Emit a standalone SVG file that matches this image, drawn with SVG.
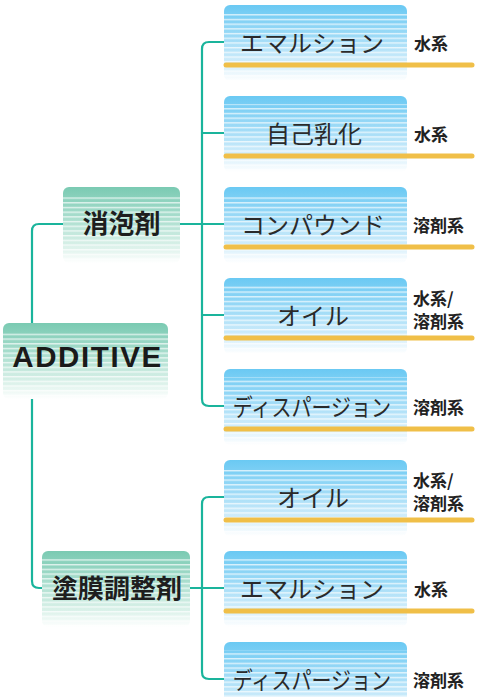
<svg xmlns="http://www.w3.org/2000/svg" width="478" height="697" viewBox="0 0 478 697">
<style>
.conn{fill:none;stroke:#1ab49c;stroke-width:2.2;stroke-linecap:round}
.ybar{stroke:#f0bf48;stroke-width:5;stroke-linecap:round}
.bt{font-family:"Noto Sans CJK JP","Noto Sans",sans-serif;font-size:24px;fill:#2a2a2a;text-anchor:middle}
.lb{font-family:"Noto Sans CJK JP","Noto Sans",sans-serif;font-size:17px;font-weight:bold;fill:#222}
.gt{font-family:"Noto Sans CJK JP","Noto Sans",sans-serif;font-size:26px;font-weight:bold;fill:#1e1e1e;text-anchor:middle}
</style>
<defs>
<linearGradient id="gb" x1="0" y1="0" x2="0" y2="1">
<stop offset="0" stop-color="#6ac9f3"/>
<stop offset="0.45" stop-color="#a2dcf7"/>
<stop offset="0.78" stop-color="#d4eefb"/>
<stop offset="1" stop-color="#ffffff"/>
</linearGradient>
<linearGradient id="gg" x1="0" y1="0" x2="0" y2="1">
<stop offset="0" stop-color="#7acab2"/>
<stop offset="0.45" stop-color="#afe0d1"/>
<stop offset="0.78" stop-color="#daf1e9"/>
<stop offset="1" stop-color="#ffffff"/>
</linearGradient>
<pattern id="st" width="10" height="4.7" patternUnits="userSpaceOnUse">
<rect x="0" y="0" width="10" height="1.4" fill="#ffffff" fill-opacity="0.7"/>
</pattern>
</defs>

<g id="connectors">
<path class="conn" d="M63,224 H39 Q32,224 32,231 V323"/>
<path class="conn" d="M32,399 V581 Q32,588 39,588 H42"/>
<path class="conn" d="M224,42 H209 Q202,42 202,49 V399 Q202,406 209,406 H224"/>
<path class="conn" d="M180,224 H224"/>
<path class="conn" d="M202,133 H224"/>
<path class="conn" d="M202,315 H224"/>
<path class="conn" d="M224,497 H209 Q202,497 202,504 V672 Q202,679 209,679 H224"/>
<path class="conn" d="M190,588 H224"/>
</g>

<g id="additive">
<rect x="3" y="323" width="165" height="76" rx="6" fill="url(#gg)"/>
<rect x="3" y="331" width="165" height="68" fill="url(#st)"/>
<text x="87.5" y="367" font-family="'Liberation Sans',Arial,sans-serif" font-size="29.5" font-weight="bold" letter-spacing="1.6" fill="#1a1a1a" text-anchor="middle">ADDITIVE</text>
</g>

<g id="shouhouzai">
<rect x="63" y="187" width="117" height="76" rx="6" fill="url(#gg)"/>
<rect x="63" y="195" width="117" height="68" fill="url(#st)"/>
<text class="gt" x="121.5" y="233">消泡剤</text>
</g>

<g id="tomakuchouseizai">
<rect x="42" y="551" width="148" height="76" rx="6" fill="url(#gg)"/>
<rect x="42" y="559" width="148" height="68" fill="url(#st)"/>
<text class="gt" x="117" y="598" font-size="27">塗膜調整剤</text>
</g>

<g id="b1">
<rect x="224" y="5" width="183" height="76" rx="6" fill="url(#gb)"/>
<rect x="224" y="13" width="183" height="68" fill="url(#st)"/>
<line class="ybar" x1="226" y1="65" x2="472" y2="65"/>
<text class="bt" x="312" y="52">エマルション</text>
<text class="lb" x="414" y="50">水系</text>
</g>

<g id="b2">
<rect x="224" y="96" width="183" height="76" rx="6" fill="url(#gb)"/>
<rect x="224" y="104" width="183" height="68" fill="url(#st)"/>
<line class="ybar" x1="226" y1="156" x2="472" y2="156"/>
<text class="bt" x="314" y="143">自己乳化</text>
<text class="lb" x="414" y="141">水系</text>
</g>

<g id="b3">
<rect x="224" y="187" width="183" height="76" rx="6" fill="url(#gb)"/>
<rect x="224" y="195" width="183" height="68" fill="url(#st)"/>
<line class="ybar" x1="226" y1="247" x2="472" y2="247"/>
<text class="bt" x="313" y="234">コンパウンド</text>
<text class="lb" x="413" y="232">溶剤系</text>
</g>

<g id="b4">
<rect x="224" y="278" width="183" height="76" rx="6" fill="url(#gb)"/>
<rect x="224" y="286" width="183" height="68" fill="url(#st)"/>
<line class="ybar" x1="226" y1="338" x2="472" y2="338"/>
<text class="bt" x="313" y="325">オイル</text>
<text class="lb" x="413" y="305">水系/</text>
<text class="lb" x="413" y="328">溶剤系</text>
</g>

<g id="b5">
<rect x="224" y="369" width="183" height="76" rx="6" fill="url(#gb)"/>
<rect x="224" y="377" width="183" height="68" fill="url(#st)"/>
<line class="ybar" x1="226" y1="429" x2="472" y2="429"/>
<text class="bt" transform="scale(0.835,1)" x="373.6" y="416">ディスパージョン</text>
<text class="lb" x="413" y="414">溶剤系</text>
</g>

<g id="b6">
<rect x="224" y="460" width="183" height="76" rx="6" fill="url(#gb)"/>
<rect x="224" y="468" width="183" height="68" fill="url(#st)"/>
<line class="ybar" x1="226" y1="520" x2="472" y2="520"/>
<text class="bt" x="313" y="507">オイル</text>
<text class="lb" x="413" y="487">水系/</text>
<text class="lb" x="413" y="510">溶剤系</text>
</g>

<g id="b7">
<rect x="224" y="551" width="183" height="76" rx="6" fill="url(#gb)"/>
<rect x="224" y="559" width="183" height="68" fill="url(#st)"/>
<line class="ybar" x1="226" y1="611" x2="472" y2="611"/>
<text class="bt" x="312" y="598">エマルション</text>
<text class="lb" x="414" y="596">水系</text>
</g>

<g id="b8">
<rect x="224" y="642" width="183" height="76" rx="6" fill="url(#gb)"/>
<rect x="224" y="650" width="183" height="68" fill="url(#st)"/>
<text class="bt" transform="scale(0.835,1)" x="373.6" y="689">ディスパージョン</text>
<text class="lb" x="413" y="687">溶剤系</text>
</g>
</svg>
